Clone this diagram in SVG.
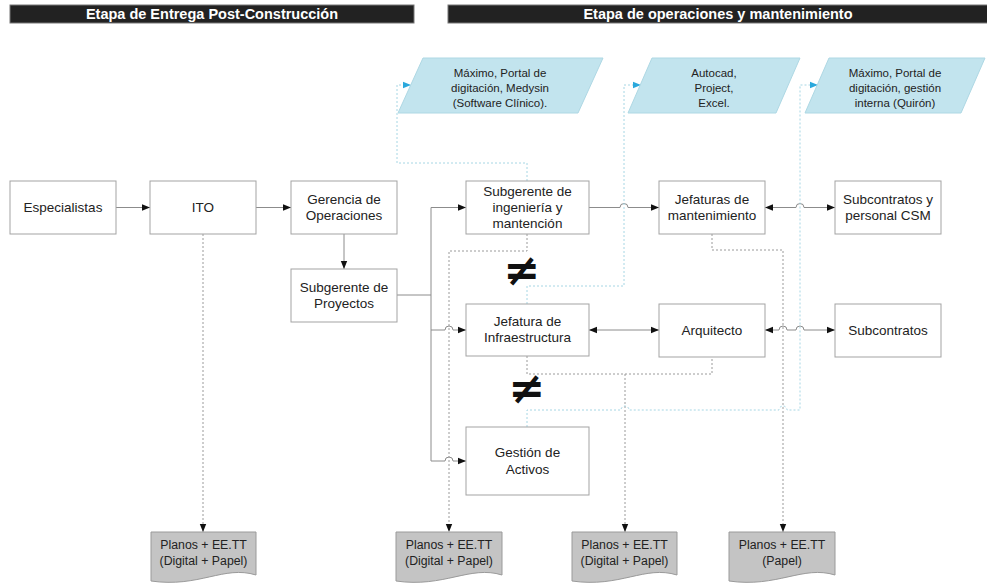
<svg xmlns="http://www.w3.org/2000/svg" width="987" height="585" viewBox="0 0 987 585">
<defs>
<style>
text{font-family:"Liberation Sans",Arial,sans-serif;fill:#222;text-anchor:middle}
.box{fill:#fff;stroke:#a3a3a3;stroke-width:1}
.t{font-size:13.5px}
.pt{font-size:11.5px}
.dt{font-size:12.3px}
.hdr{fill:#222;stroke:#777;stroke-width:1}
.ht{font-size:14.5px;font-weight:bold;fill:#fff}
.sol{fill:none;stroke:#8c8c8c;stroke-width:1}
.gd{fill:none;stroke:#9a9a9a;stroke-width:1;stroke-dasharray:2 2}
.bd{fill:none;stroke:#a6d6e4;stroke-width:1;stroke-dasharray:2 2}
.par{fill:#c2e4ee;stroke:#aed8e4;stroke-width:1}
.doc{fill:#c4c4c4;stroke:#9a9a9a;stroke-width:1}
.ne{font-family:"DejaVu Sans",sans-serif;font-size:44px;font-weight:bold;fill:#111}
</style>
<marker id="a" viewBox="0 0 10 10" refX="10" refY="5" markerWidth="8" markerHeight="8" markerUnits="userSpaceOnUse" orient="auto-start-reverse"><path d="M0,1 L10,5 L0,9 z" fill="#111"/></marker>
<marker id="ab" viewBox="0 0 10 10" refX="10" refY="5" markerWidth="8" markerHeight="8" markerUnits="userSpaceOnUse" orient="auto"><path d="M0,1 L10,5 L0,9 z" fill="#2aa8dc"/></marker>
</defs>
<rect width="987" height="585" fill="#fff"/>

<g id="headers">
<rect class="hdr" x="10" y="5" width="404" height="18"/>
<text class="ht" x="212" y="19">Etapa de Entrega Post-Construcción</text>
<rect class="hdr" x="448" y="5" width="545" height="18"/>
<text class="ht" x="718" y="19">Etapa de operaciones y mantenimiento</text>
</g>

<g id="connectors">
<path class="sol" d="M116,207.5 H150" marker-end="url(#a)"/>
<path class="sol" d="M256,207.5 H291" marker-end="url(#a)"/>
<path class="sol" d="M344,234 V269" marker-end="url(#a)"/>
<path class="sol" d="M397,295 H431"/>
<path class="sol" d="M431,207.5 V461"/>
<path class="sol" d="M431,207.5 H466" marker-end="url(#a)"/>
<path class="sol" d="M431,330 H445 A4 4 0 0 1 453,330 H466" marker-end="url(#a)"/>
<path class="sol" d="M431,461 H445 A4 4 0 0 1 453,461 H466" marker-end="url(#a)"/>
<path class="sol" d="M589,207.5 H620 A4 4 0 0 1 628,207.5 H659" marker-end="url(#a)"/>
<path class="sol" d="M765,207.5 H796 A4 4 0 0 1 804,207.5 H835" marker-start="url(#a)" marker-end="url(#a)"/>
<path class="sol" d="M589,330 H659" marker-start="url(#a)" marker-end="url(#a)"/>
<path class="sol" d="M765,330 H779 A4 4 0 0 1 787,330 H796 A4 4 0 0 1 804,330 H835" marker-start="url(#a)" marker-end="url(#a)"/>
<path class="gd" d="M203,234 V532" marker-end="url(#a)"/>
<path class="gd" d="M527,234 V251 H449 V532" marker-end="url(#a)"/>
<path class="gd" d="M527,356 V374 H712 V357"/>
<path class="gd" d="M625,374 V532" marker-end="url(#a)"/>
<path class="gd" d="M712,234 V250 H783 V532" marker-end="url(#a)"/>
<path class="bd" d="M527,181 V163 H397 V85 H411" marker-end="url(#ab)"/>
<path class="bd" d="M527,304 V286 H624 V85 H641" marker-end="url(#ab)"/>
<path class="bd" d="M527,427 V410 H621 A4 4 0 0 1 629,410 H779 A4 4 0 0 1 787,410 H800 V85 H818" marker-end="url(#ab)"/>
</g>

<g id="neq1"><text class="ne" x="522" y="285">≠</text></g>
<g id="neq2"><text class="ne" x="527" y="403">≠</text></g>

<g id="p1"><path class="par" d="M423,58 H603 L578,113 H398 Z"/>
<text class="pt" x="500" y="76.5">Máximo, Portal de</text>
<text class="pt" x="500" y="91.5">digitación, Medysin</text>
<text class="pt" x="500" y="106.5">(Software Clínico).</text></g>
<g id="p2"><path class="par" d="M652,58 H800 L776,113 H628 Z"/>
<text class="pt" x="714" y="76.5">Autocad,</text>
<text class="pt" x="714" y="91.5">Project,</text>
<text class="pt" x="714" y="106.5">Excel.</text></g>
<g id="p3"><path class="par" d="M829,58 H985 L961,113 H805 Z"/>
<text class="pt" x="895" y="76.5">Máximo, Portal de</text>
<text class="pt" x="895" y="91.5">digitación, gestión</text>
<text class="pt" x="895" y="106.5">interna (Quirón)</text></g>

<g id="especialistas"><rect class="box" x="10" y="181" width="106" height="53"/><text class="t" x="63" y="212">Especialistas</text></g>
<g id="ito"><rect class="box" x="150" y="181" width="106" height="53"/><text class="t" x="203" y="212">ITO</text></g>
<g id="gerencia"><rect class="box" x="291" y="181" width="106" height="53"/><text class="t" x="344" y="204">Gerencia de</text><text class="t" x="344" y="220">Operaciones</text></g>
<g id="subproyectos"><rect class="box" x="291" y="269" width="106" height="53"/><text class="t" x="344" y="292">Subgerente de</text><text class="t" x="344" y="308">Proyectos</text></g>
<g id="subingenieria"><rect class="box" x="466" y="181" width="123" height="53"/><text class="t" x="527.5" y="195.5">Subgerente de</text><text class="t" x="527.5" y="212">ingeniería y</text><text class="t" x="527.5" y="228">mantención</text></g>
<g id="jefinfra"><rect class="box" x="466" y="304" width="123" height="52"/><text class="t" x="527.5" y="326">Jefatura de</text><text class="t" x="527.5" y="342">Infraestructura</text></g>
<g id="gestion"><rect class="box" x="466" y="427" width="123" height="68"/><text class="t" x="527.5" y="457">Gestión de</text><text class="t" x="527.5" y="474">Activos</text></g>
<g id="jefmant"><rect class="box" x="659" y="181" width="106" height="53"/><text class="t" x="712" y="204">Jefaturas de</text><text class="t" x="712" y="220">mantenimiento</text></g>
<g id="arquitecto"><rect class="box" x="659" y="304" width="106" height="53"/><text class="t" x="712" y="335">Arquitecto</text></g>
<g id="subcsm"><rect class="box" x="835" y="181" width="106" height="53"/><text class="t" x="888" y="204">Subcontratos y</text><text class="t" x="888" y="220">personal CSM</text></g>
<g id="subcontratos"><rect class="box" x="835" y="304" width="106" height="53"/><text class="t" x="888" y="335">Subcontratos</text></g>

<g id="doc1"><path class="doc" d="M151,532 H256 V575 C224,565 199,588 151,581 Z"/><text class="dt" x="203.5" y="549">Planos + EE.TT</text><text class="dt" x="203.5" y="565">(Digital + Papel)</text></g>
<g id="doc2"><path class="doc" d="M396,532 H502 V575 C470,565 444,588 396,581 Z"/><text class="dt" x="449" y="549">Planos + EE.TT</text><text class="dt" x="449" y="565">(Digital + Papel)</text></g>
<g id="doc3"><path class="doc" d="M572,532 H677 V575 C645,565 620,588 572,581 Z"/><text class="dt" x="624.5" y="549">Planos + EE.TT</text><text class="dt" x="624.5" y="565">(Digital + Papel)</text></g>
<g id="doc4"><path class="doc" d="M729,532 H835 V575 C803,565 777,588 729,581 Z"/><text class="dt" x="782" y="549">Planos + EE.TT</text><text class="dt" x="782" y="565">(Papel)</text></g>
</svg>
